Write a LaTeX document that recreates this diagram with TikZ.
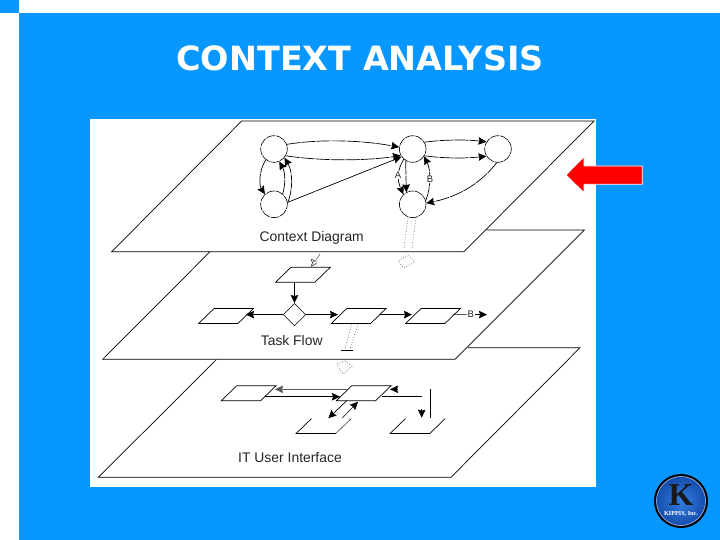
\documentclass[tikz,border=0pt]{standalone}
\usepackage{fontspec}
\setmainfont{Liberation Sans}
\newfontfamily\logofont{Liberation Serif}
\newfontfamily\titlefont{DejaVu Sans}
\usetikzlibrary{arrows.meta,shapes.geometric,calc}
\definecolor{slideblue}{RGB}{8,150,255}
\definecolor{logoblue}{RGB}{20,75,170}
\definecolor{logolight}{RGB}{50,125,225}
\tikzset{
  plane/.style={draw=black,fill=white,line width=0.7pt},
  state/.style={circle,draw=black,fill=white,minimum size=26.6pt,inner sep=0pt,line width=0.6pt,dash pattern=on 9pt off 0.8pt},
  flow/.style={line width=0.7pt,-{Stealth[length=8pt,width=7.5pt,inset=1pt]}},
  thinflow/.style={flow,dash pattern=on 14pt off 1pt},
  para/.style={draw=black,fill=white,xslant=1.03,transform shape,minimum width=39.3pt,minimum height=15pt,inner sep=0pt,line width=0.7pt},
  openpara/.style={xslant=1.03,transform shape,minimum width=39.3pt,minimum height=14.5pt,inner sep=0pt},
  decision/.style={diamond,draw=black,fill=white,minimum size=22.5pt,inner sep=0pt,line width=0.6pt},
  planelabel/.style={font=\fontsize{13.9}{16}\selectfont,text=black!85,inner sep=0pt},
  smalllabel/.style={font=\fontsize{9.5}{11}\selectfont,text=black!85,inner sep=0pt},
  hint/.style={dotted,black!65,line width=0.7pt},
  plain/.style={line width=0.7pt}
}
\begin{document}
\begin{tikzpicture}[x=1pt,y=-1pt]
\useasboundingbox (0,0) rectangle (720,540);
% slide background
\fill[white] (0,0) rectangle (720,540);
\fill[slideblue] (19,13) rectangle (720,540);
\fill[slideblue] (0,0) rectangle (19,13);
\fill[white] (90,119) rectangle (596,487);
% title
\node[font=\titlefont\bfseries\fontsize{33.4}{38}\selectfont,text=white] (title) at (360,58) {CONTEXT ANALYSIS};
% planes
\draw[plane] (216.7,359.3) -- (98.3,477.3) -- (451,477.3) -- (580,347.7) -- (468,347.7);
\fill[white] (102.7,359.3) -- (455,359.3) -- (584.3,230) -- (210,230) -- cycle;
\draw[plane] (210,251.7) -- (102.7,359.3) -- (455,359.3) -- (584.3,230) -- (486.7,230);
\draw[plane] (241.7,121) -- (594,121) -- (464,251.7) -- (111.7,251.7) -- cycle;
% context diagram
\node[state] (c1) at (274,149) {};
\node[state] (c2) at (412.7,149) {};
\node[state] (c3) at (498,149) {};
\node[state] (c4) at (274,204.3) {};
\node[state] (c5) at (412.7,204.3) {};
\draw[thinflow] (c1.20) .. controls (320,139) and (360,140) .. (c2.172);
\draw[thinflow] (c1.-30) .. controls (320,161) and (365,161) .. (c2.209);
\draw[flow,dash pattern=on 30pt off 0.6pt] (c4.8) -- (c2.215);
\draw[thinflow] (c2.30) .. controls (445,139.5) and (465,139.5) .. (c3.148);
\draw[thinflow] (c2.-30) .. controls (445,158.5) and (465,158.5) .. (c3.212);
\draw[thinflow] (c3.265) .. controls (477,188) and (452,198) .. (c5.5);
\draw[thinflow] (c1.233) .. controls (259,170) and (259,185) .. (c4.132);
\draw[thinflow] (c4.50) .. controls (286,182) and (285,172) .. (c1.293);
\draw[thinflow] (c4.5) .. controls (293,190) and (293,172) .. (c1.-40);
\draw[thinflow] (c2.229) .. controls (397,170) and (397,180) .. (c5.133);
\draw[thinflow] (c2.239) -- (c5.118);
\draw[thinflow] (c5.16) .. controls (431,188) and (431,170) .. (c2.-33);
\node[smalllabel,fill=white,inner sep=0.5pt] (la) at (398,175) {A};
\node[smalllabel,fill=white,inner sep=0.5pt] (lb) at (430,179.3) {B};
\node[planelabel] (t1) at (311.7,238.3) {Context Diagram};
% dotted drill-down 1
\coordinate (d1a) at (408,218); \coordinate (d1b) at (404,248);
\coordinate (d1c) at (416,218); \coordinate (d1d) at (412,248);
\draw[hint] (d1a) -- (d1b);
\draw[hint] (d1c) -- (d1d);
\coordinate (h1l) at (398,261); \coordinate (h1r) at (415,262);
\coordinate (h1t) at (404,268); \coordinate (h1s) at (408,255);
\draw[hint] (h1s) -- (h1r) -- (h1t) -- (h1l) -- (h1s);
% task flow
\node[para] (pt) at (303,274.7) {};
\node[decision] (dc) at (294.5,314.6) {};
\node[para] (pl) at (226,316) {};
\node[para] (pm) at (358.7,316) {};
\node[para] (pr) at (433,316) {};
\coordinate (aa) at (320,254);
\draw[flow,black!70,line width=0.5pt,-{Stealth[length=6pt,width=6pt,inset=1pt]}] (aa) -- (pt.north);
\node[smalllabel,fill=white,inner sep=0.3pt,rotate=45,font=\fontsize{8}{9}\selectfont] (lat) at (313,261.3) {A};
\draw[flow] (pt.south -| dc.north) -- (dc.north);
\draw[flow] (dc.west) -- (pl.east |- dc.west);
\draw[flow] (dc.east) -- (338,314.6);
\draw[flow] (380,314.6) -- (412,314.6);
\node[smalllabel,inner sep=0.5pt] (lbt) at (470.7,314.3) {B};
\draw[plain,line width=0.5pt] (453,314.6) -- (lbt.west);
\coordinate (bb) at (487,314.6);
\draw[flow] (475,314.6) -- (bb);
\node[planelabel] (t2) at (291.7,341) {Task Flow};
% dotted drill-down 2
\coordinate (d2a) at (351.7,324); \coordinate (d2b) at (345,349);
\coordinate (d2c) at (358,324); \coordinate (d2d) at (350,349);
\draw[hint] (d2a) -- (d2b);
\draw[hint] (d2c) -- (d2d);
\coordinate (b2l) at (340.7,350); \coordinate (b2r) at (353,350);
\draw[plain,line width=0.5pt] (b2l) -- (b2r);
\coordinate (h2l) at (337,364); \coordinate (h2r) at (352,366);
\coordinate (h2t) at (343,374); \coordinate (h2s) at (345,361);
\draw[hint] (h2s) -- (h2r) -- (h2t) -- (h2l) -- (h2s);
% IT user interface
\node[para] (u1) at (248.7,393.2) {};
\node[para] (u2) at (363.7,393.2) {};
\node[openpara] (u3) at (323.7,426) {};
\node[openpara] (u4) at (417.7,426) {};
\draw[plain] (u3.north west) -- (u3.south west) -- (u3.south east);
\draw[plain,line width=0.4pt] (u3.south east) -- (u3.north east);
\draw[plain] (u4.north west) -- (u4.south west) -- (u4.south east) -- (u4.north east);
\draw[flow,black!65] (347,389.3) -- (275,389.3);
\draw[flow] (265,396.7) -- (340,396.7);
\draw[flow] (346.7,400.7) -- (328.3,418.3);
\draw[flow,line width=0.5pt] (342.3,418) -- (358,401.7);
\draw[plain] (381.7,396.7) -- (422.3,396.7);
\draw[plain] (430.3,389.3) -- (430.3,418.3);
\draw[flow] (398,389.3) -- (390,389.3);
\draw[flow] (421.7,409) -- (421.7,417.7);
\node[planelabel] (t3) at (290,457.7) {IT User Interface};
% red arrow
\draw[fill=red,draw=white,line width=0.8pt,line join=miter] (642.3,166) -- (584,166) -- (584,156.7) -- (566,175) -- (584,192.7) -- (584,184.3) -- (642.3,184.3) -- cycle;
% logo
\node[circle,draw=black,line width=2pt,inner color=logolight,outer color=logoblue,minimum size=52pt,inner sep=0pt] (logo) at (681,501) {};
\node[circle,draw=white!70!logoblue,line width=0.5pt,minimum size=49pt,inner sep=0pt] (logoring) at (681,501) {};
\node[font=\logofont\bfseries\fontsize{32}{34}\selectfont,text=black!90,inner sep=0pt] (logok) at (681,495.5) {K};
\node[font=\logofont\bfseries\fontsize{6.2}{6.5}\selectfont,text=white,inner sep=0pt] (logot) at (681,514) {KIPPIS, Inc.};
\end{tikzpicture}
\end{document}
